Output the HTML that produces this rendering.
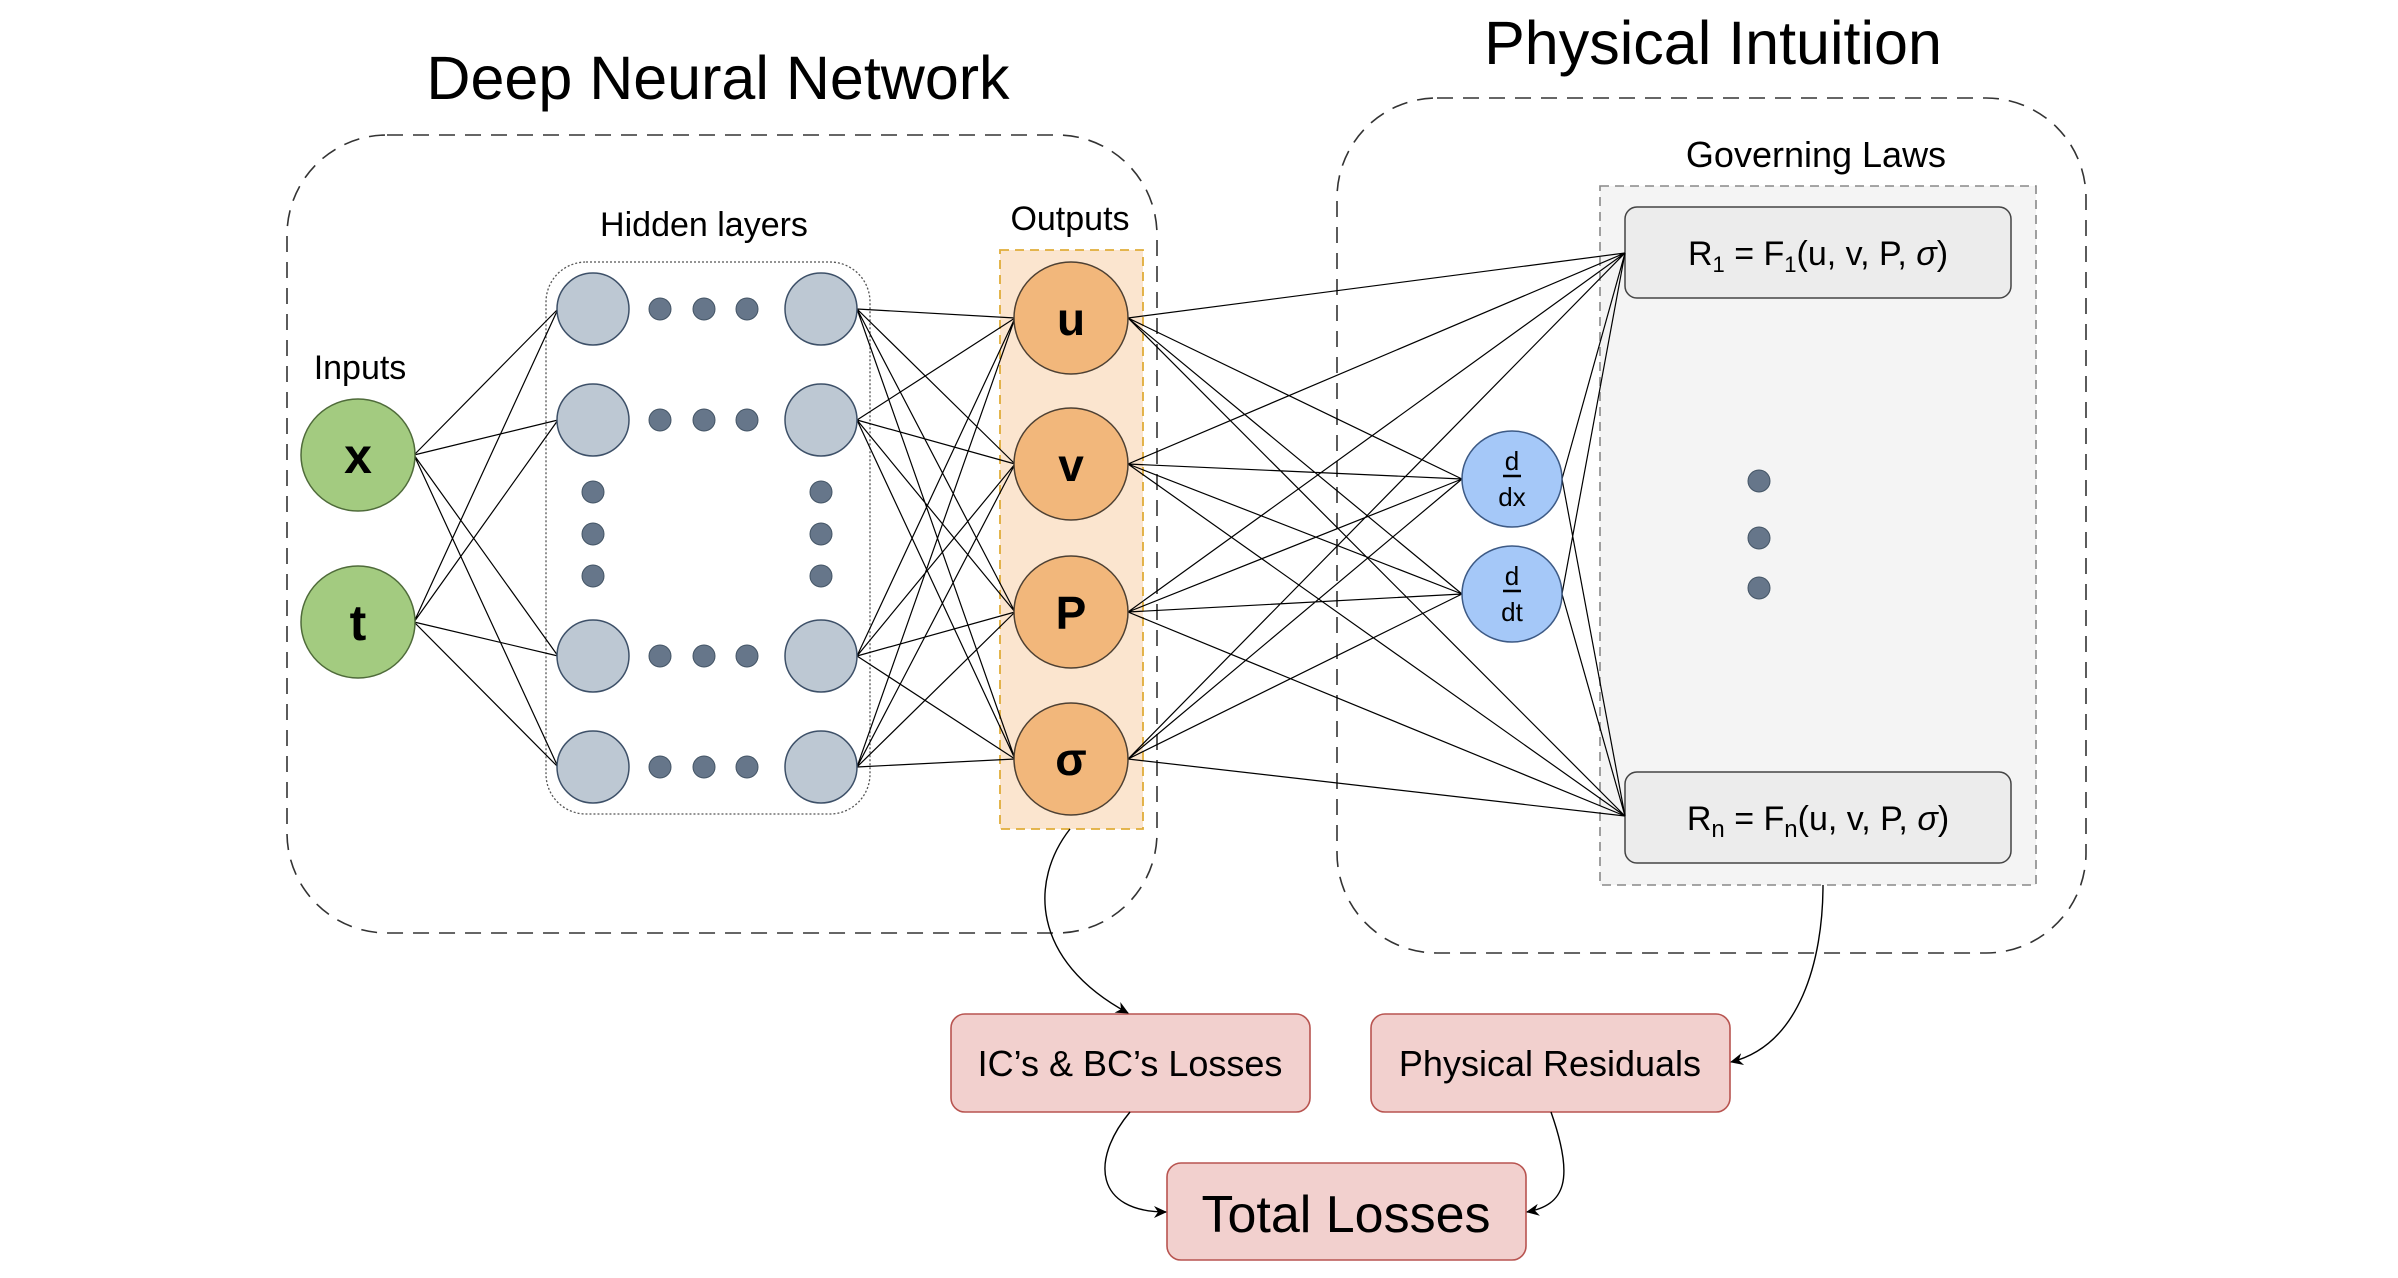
<!DOCTYPE html>
<html><head><meta charset="utf-8"><style>
html,body{margin:0;padding:0;background:#fff;}
svg{display:block;font-family:"Liberation Sans",sans-serif;}
</style></head><body>
<svg width="2398" height="1278" viewBox="0 0 2398 1278" xmlns="http://www.w3.org/2000/svg">
<defs>
<marker id="ar" markerWidth="14" markerHeight="14" refX="12" refY="7" orient="auto" markerUnits="userSpaceOnUse">
<path d="M0,1 L13,7 L0,13 L4,7 Z" fill="#000"/>
</marker>
</defs>
<text x="718" y="99" font-size="61" text-anchor="middle">Deep Neural Network</text>
<text x="1713" y="64" font-size="61" text-anchor="middle">Physical Intuition</text>

<rect x="287" y="135" width="870" height="798" rx="100" fill="none" stroke="#333" stroke-width="1.6" stroke-dasharray="16,10"/>
<rect x="1337" y="98" width="749" height="855" rx="100" fill="none" stroke="#333" stroke-width="1.6" stroke-dasharray="16,10"/>

<text x="1816" y="167" font-size="36" text-anchor="middle">Governing Laws</text>
<rect x="1600" y="186" width="436" height="699" fill="#f4f4f4" stroke="#888" stroke-width="1.6" stroke-dasharray="9,6"/>
<rect x="1625" y="207" width="386" height="91" rx="12" fill="#ececec" stroke="#444" stroke-width="1.5"/>
<rect x="1625" y="772" width="386" height="91" rx="12" fill="#ececec" stroke="#444" stroke-width="1.5"/>
<text x="1818" y="265" font-size="34" text-anchor="middle">R<tspan font-size="22" dy="7">1</tspan><tspan dy="-7"> = F</tspan><tspan font-size="22" dy="7">1</tspan><tspan dy="-7">(u, v, P, </tspan><tspan font-style="italic">σ</tspan>)</text>
<text x="1818" y="830" font-size="34" text-anchor="middle">R<tspan font-size="24" dy="7">n</tspan><tspan dy="-7"> = F</tspan><tspan font-size="24" dy="7">n</tspan><tspan dy="-7">(u, v, P, </tspan><tspan font-style="italic">σ</tspan>)</text>
<g fill="#66768a" stroke="#445566" stroke-width="1">
<circle cx="1759" cy="481" r="11"/><circle cx="1759" cy="538" r="11"/><circle cx="1759" cy="588" r="11"/>
</g>

<text x="704" y="236" font-size="34" text-anchor="middle">Hidden layers</text>
<text x="360" y="379" font-size="34" text-anchor="middle">Inputs</text>
<text x="1070" y="230" font-size="34" text-anchor="middle">Outputs</text>

<rect x="1000" y="250" width="143" height="579" fill="#fbe5cf" stroke="#e0ad3a" stroke-width="1.8" stroke-dasharray="9,6"/>
<rect x="546" y="262" width="324" height="552" rx="40" fill="none" stroke="#555" stroke-width="1.3" stroke-dasharray="2,2"/>

<g stroke="#000" stroke-width="1.2" fill="none">
<path d="M414,455 L558,309 M414,455 L558,420 M414,455 L558,656 M414,455 L558,767
M414,622 L558,309 M414,622 L558,420 M414,622 L558,656 M414,622 L558,767"/>
<path d="M857,309 L1015,318 M857,309 L1015,464 M857,309 L1015,612 M857,309 L1015,759
M857,420 L1015,318 M857,420 L1015,464 M857,420 L1015,612 M857,420 L1015,759
M857,656 L1015,318 M857,656 L1015,464 M857,656 L1015,612 M857,656 L1015,759
M857,767 L1015,318 M857,767 L1015,464 M857,767 L1015,612 M857,767 L1015,759"/>
<path d="M1128,318 L1625,253 M1128,318 L1625,816 M1128,318 L1462,479 M1128,318 L1462,594
M1128,464 L1625,253 M1128,464 L1625,816 M1128,464 L1462,479 M1128,464 L1462,594
M1128,612 L1625,253 M1128,612 L1625,816 M1128,612 L1462,479 M1128,612 L1462,594
M1128,759 L1625,253 M1128,759 L1625,816 M1128,759 L1462,479 M1128,759 L1462,594"/>
<path d="M1562,479 L1625,253 M1562,479 L1625,816 M1562,594 L1625,253 M1562,594 L1625,816"/>
</g>

<g fill="#bdc8d3" stroke="#3d5068" stroke-width="1.5">
<circle cx="593" cy="309" r="36"/><circle cx="593" cy="420" r="36"/><circle cx="593" cy="656" r="36"/><circle cx="593" cy="767" r="36"/>
<circle cx="821" cy="309" r="36"/><circle cx="821" cy="420" r="36"/><circle cx="821" cy="656" r="36"/><circle cx="821" cy="767" r="36"/>
</g>
<g fill="#66768a" stroke="#445566" stroke-width="1">
<circle cx="660" cy="309" r="11"/><circle cx="704" cy="309" r="11"/><circle cx="747" cy="309" r="11"/>
<circle cx="660" cy="420" r="11"/><circle cx="704" cy="420" r="11"/><circle cx="747" cy="420" r="11"/>
<circle cx="660" cy="656" r="11"/><circle cx="704" cy="656" r="11"/><circle cx="747" cy="656" r="11"/>
<circle cx="660" cy="767" r="11"/><circle cx="704" cy="767" r="11"/><circle cx="747" cy="767" r="11"/>
<circle cx="593" cy="492" r="11"/><circle cx="593" cy="534" r="11"/><circle cx="593" cy="576" r="11"/>
<circle cx="821" cy="492" r="11"/><circle cx="821" cy="534" r="11"/><circle cx="821" cy="576" r="11"/>
</g>

<g fill="#a3cb80" stroke="#4f6b3a" stroke-width="1.5">
<ellipse cx="358" cy="455" rx="57" ry="56"/><ellipse cx="358" cy="622" rx="57" ry="56"/>
</g>
<text x="358" y="473" font-size="50" font-weight="bold" text-anchor="middle">x</text>
<text x="358" y="640" font-size="50" font-weight="bold" text-anchor="middle">t</text>

<g fill="#f2b77b" stroke="#4d4033" stroke-width="1.5">
<ellipse cx="1071" cy="318" rx="57" ry="56"/><ellipse cx="1071" cy="464" rx="57" ry="56"/>
<ellipse cx="1071" cy="612" rx="57" ry="56"/><ellipse cx="1071" cy="759" rx="57" ry="56"/>
</g>
<g font-size="46" font-weight="bold" text-anchor="middle">
<text x="1071" y="335">u</text><text x="1071" y="481">v</text>
<text x="1071" y="629">P</text><text x="1071" y="775">σ</text>
</g>

<g fill="#a5c8f8" stroke="#3d5a85" stroke-width="1.5">
<ellipse cx="1512" cy="479" rx="50" ry="48"/><ellipse cx="1512" cy="594" rx="50" ry="48"/>
</g>
<g font-size="26" text-anchor="middle">
<text x="1512" y="470">d</text><text x="1512" y="506">dx</text>
<text x="1512" y="585">d</text><text x="1512" y="621">dt</text>
</g>
<g stroke="#000" stroke-width="2.5">
<line x1="1503" y1="476" x2="1521" y2="476"/><line x1="1503" y1="591" x2="1521" y2="591"/>
</g>

<g fill="#f2d0ce" stroke="#b85450" stroke-width="1.6">
<rect x="951" y="1014" width="359" height="98" rx="14"/>
<rect x="1371" y="1014" width="359" height="98" rx="14"/>
<rect x="1167" y="1163" width="359" height="97" rx="14"/>
</g>
<g text-anchor="middle">
<text x="1130" y="1076" font-size="36">IC’s &amp; BC’s Losses</text>
<text x="1550" y="1076" font-size="36">Physical Residuals</text>
<text x="1346" y="1232" font-size="52">Total Losses</text>
</g>

<g stroke="#000" stroke-width="1.4" fill="none" marker-end="url(#ar)">
<path d="M1070,829 C1030,880 1030,960 1128,1013"/>
<path d="M1823,885 C1823,960 1800,1045 1731,1062"/>
<path d="M1130,1112 C1090,1160 1095,1212 1166,1212"/>
<path d="M1551,1112 C1575,1180 1565,1205 1527,1212"/>
</g>
</svg>
</body></html>
